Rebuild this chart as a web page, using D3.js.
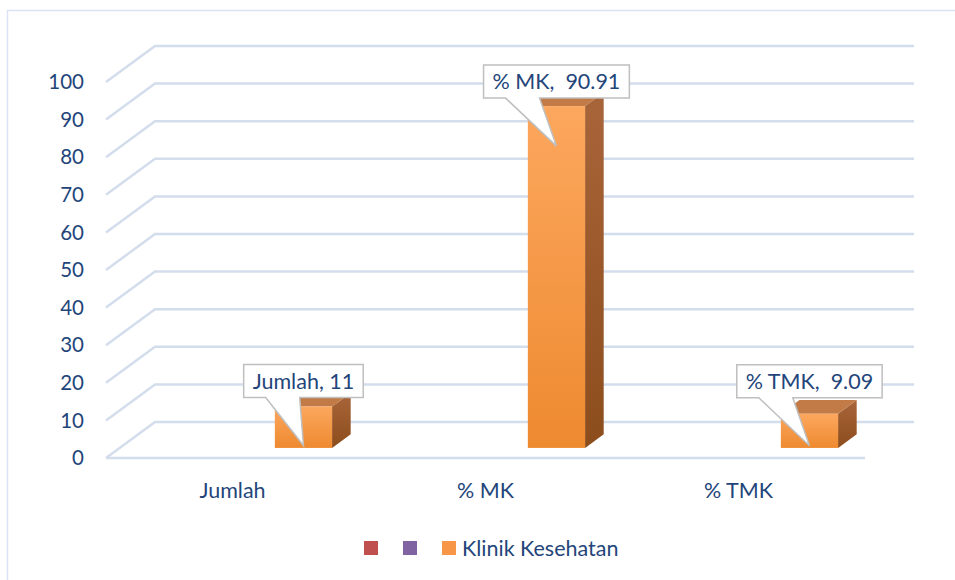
<!DOCTYPE html>
<html>
<head>
<meta charset="utf-8">
<script src="https://cdn.jsdelivr.net/npm/d3@7"></script>
<style>
  body { margin: 0; background: #fff; }
  text { font-family: Lato, "Open Sans", sans-serif; fill: #23457a; }
</style>
</head>
<body>
<svg id="chart" width="955" height="580"></svg>
<script>
// data
const categories = ['Jumlah', '% MK', '% TMK']
const seriesNames = ['', '', 'Klinik Kesehatan']
const seriesColors = ['#c0504d', '#8064a2', '#f79646']
const klinikValues = [11, 90.91, 9.09]
const valueLabels = ['Jumlah, 11', '% MK,  90.91', '% TMK,  9.09']
const yTicks = [0, 10, 20, 30, 40, 50, 60, 70, 80, 90, 100]

// series values (first two are empty in the source chart)
const seriesValues = [
  [null, null, null],
  [null, null, null],
  klinikValues
]

// layout
const floorLeft = 106, floorRight = 865
const depthX = 49, depthY = 36
const barDepth0 = 0.28, barDepth1 = 0.66
const calloutLift = [9, 8, 16]
const textSize = 21.5

const svg = d3.select('#chart')

// chart frame
svg.append('rect')
    .attr('x', 7.5).attr('y', 10.5)
    .attr('width', 1000).attr('height', 1000)
    .attr('fill', 'none')
    .attr('stroke', '#dae3f3')
    .attr('stroke-width', 1.5)

const x = d3.scaleBand()
    .domain(categories)
    .range([floorLeft, floorRight])

const xSeries = d3.scaleBand()
    .domain(d3.range(seriesNames.length))
    .range([0, x.bandwidth()])
    .paddingInner(0)
    .paddingOuter(0.71)

const y = d3.scaleLinear()
    .domain([0, 100])
    .range([458, 458 - 376])

// gridlines
const grid = svg.append('g')
yTicks.forEach(t => {
    grid.append('path')
        .attr('d', `M${floorLeft},${y(t)} L${floorLeft + depthX},${y(t) - depthY} L${floorRight + depthX},${y(t) - depthY}`)
        .attr('fill', 'none')
        .attr('stroke', '#d3ddec')
        .attr('stroke-width', 2.5)
})
grid.append('line')
    .attr('x1', floorLeft).attr('x2', floorRight)
    .attr('y1', y(0)).attr('y2', y(0))
    .attr('stroke', '#d3ddec')
    .attr('stroke-width', 2.5)

// y labels
svg.append('g').selectAll('text')
    .data(yTicks)
    .join('text')
    .attr('x', 84)
    .attr('y', d => y(d))
    .attr('dy', '0.35em')
    .attr('text-anchor', 'end')
    .attr('font-size', 20.5)
    .text(d => d)

// category labels
svg.append('g').selectAll('text')
    .data(categories)
    .join('text')
    .attr('x', d => x(d) + x.bandwidth() / 2)
    .attr('y', 490)
    .attr('dy', '0.35em')
    .attr('text-anchor', 'middle')
    .attr('font-size', textSize)
    .text(d => d)

// gradients
const defs = svg.append('defs')
const gFront = defs.append('linearGradient').attr('id', 'front').attr('x1', 0).attr('x2', 0).attr('y1', 0).attr('y2', 1)
gFront.append('stop').attr('offset', '0%').attr('stop-color', '#fca75e')
gFront.append('stop').attr('offset', '100%').attr('stop-color', '#ee8a30')
const gSide = defs.append('linearGradient').attr('id', 'side').attr('x1', 0).attr('x2', 0).attr('y1', 0).attr('y2', 1)
gSide.append('stop').attr('offset', '0%').attr('stop-color', '#a9653a')
gSide.append('stop').attr('offset', '100%').attr('stop-color', '#8c4d1c')

// bars
const bars = svg.append('g')
const barInfo = []
seriesValues.forEach((vals, s) => {
    vals.forEach((v, i) => {
        if (v == null) return
        const fx = x(categories[i]) + xSeries(s) + barDepth0 * depthX
        const w = xSeries.bandwidth()
        const yb = y(0) - barDepth0 * depthY
        const yt = y(v) - barDepth0 * depthY
        const ddx = (barDepth1 - barDepth0) * depthX
        const ddy = (barDepth1 - barDepth0) * depthY
        // side
        bars.append('path')
            .attr('d', `M${fx + w},${yb} L${fx + w},${yt} L${fx + w + ddx},${yt - ddy} L${fx + w + ddx},${yb - ddy} Z`)
            .attr('fill', 'url(#side)')
        // top
        bars.append('path')
            .attr('d', `M${fx},${yt} L${fx + ddx},${yt - ddy} L${fx + w + ddx},${yt - ddy} L${fx + w},${yt} Z`)
            .attr('fill', '#c27a46')
        // front
        bars.append('rect')
            .attr('x', fx).attr('y', yt)
            .attr('width', w).attr('height', yb - yt)
            .attr('fill', 'url(#front)')
        barInfo.push({ cx: fx + w / 2, yt: yt, i: i })
    })
})

// callouts
const callouts = svg.append('g')
barInfo.forEach(b => {
    const g = callouts.append('g')
    const t = g.append('text')
        .attr('font-size', textSize)
        .style('white-space', 'pre')
        .attr('text-anchor', 'middle')
        .text(valueLabels[b.i])
    const tw = t.node().getComputedTextLength()
    const bw = tw + 18, bh = 33
    const bx = b.cx - bw / 2
    const by = b.yt - calloutLift[b.i] - bh
    const tipY = by + bh + 48
    const p0 = bx + 22, p1 = bx + 56
    g.insert('path', 'text')
        .attr('d', `M${bx},${by} H${bx + bw} V${by + bh} H${p1} L${b.cx},${tipY} L${p0},${by + bh} H${bx} Z`)
        .attr('fill', '#fff')
        .attr('stroke', '#bfbfbf')
        .attr('stroke-width', 1.5)
    t.attr('x', bx + bw / 2).attr('y', by + bh / 2).attr('dy', '0.35em')
})

// legend
const legend = svg.append('g').attr('transform', 'translate(364,548)')
let lx = 0
seriesNames.forEach((name, s) => {
    legend.append('rect')
        .attr('x', lx).attr('y', -7)
        .attr('width', 14).attr('height', 14)
        .attr('fill', seriesColors[s])
    const t = legend.append('text')
        .attr('x', lx + 20)
        .attr('dy', '0.35em')
        .attr('font-size', textSize)
        .text(name)
    lx += 39 + (name ? t.node().getComputedTextLength() : 0)
})
</script>
</body>
</html>
